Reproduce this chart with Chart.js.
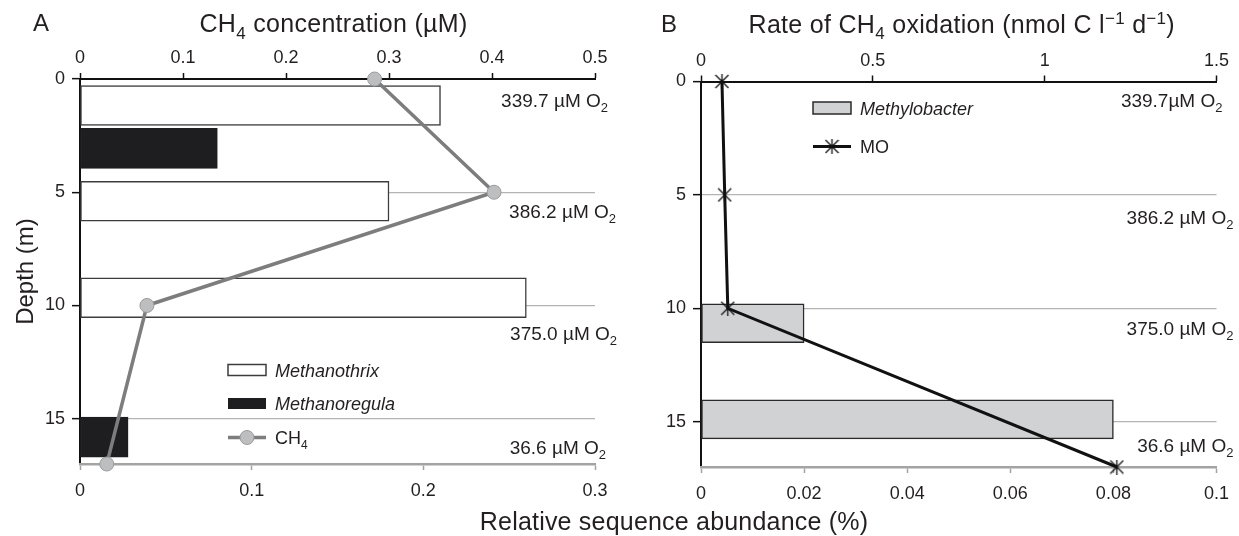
<!DOCTYPE html>
<html>
<head>
<meta charset="utf-8">
<script src="https://cdn.jsdelivr.net/npm/chart.js@4.4.1/dist/chart.umd.min.js"></script>
<style>
  body { margin: 0; background: #fff; }
  #wrap { position: relative; width: 1239px; height: 536px; overflow: hidden; }
  #chartA { position: absolute; left: 0; top: 0; }
  #chartB { position: absolute; left: 620px; top: 0; }
  #xtitle {
    position: absolute; left: 674px; top: 507px; transform: translateX(-50%);
    font: 25px "Liberation Sans", Arial, sans-serif; letter-spacing: 0.2px;
    color: #231f20; white-space: nowrap; line-height: 28px;
  }
</style>
</head>
<body>
<div id="wrap">
  <canvas id="chartA" width="620" height="536"></canvas>
  <canvas id="chartB" width="619" height="536"></canvas>
  <div id="xtitle">Relative sequence abundance (%)</div>
</div>
<script>
// ---- panel A: archaea (bars, %) and CH4 profile (line, µM)
const thrixDepth = [1.17, 5.4, 9.66];
const thrixAbund = [0.21, 0.18, 0.26];
const regulaDepth = [3.06, 15.81];
const regulaAbund = [0.08, 0.028];
const ch4Depth = [0, 5, 10, 17];
const ch4Conc = [0.286, 0.402, 0.065, 0.026];

// ---- panel B: Methylobacter (bars, %) and CH4 oxidation rate (line)
const bacterDepth = [10.66, 14.9];
const bacterAbund = [0.02, 0.08];
const moDepth = [0, 5, 10, 17];
const moRate = [0.061, 0.069, 0.078, 1.21];

// O2 measured at the four sampling depths
const o2Values = ['339.7', '386.2', '375.0', '36.6'];

const FONT = '"Liberation Sans", Arial, Helvetica, sans-serif';
const INK = '#231f20';
const tickFont = { family: FONT, size: 18 };

function numLabel(v) {
  return String(Math.round(v * 1e6) / 1e6);
}

// draws text made of parts like [['CH'], ['4', 'sub']], y is the baseline
function drawRich(ctx, parts, x, y, size, align, style) {
  style = style || '';
  const fontFor = k => style + ' ' + (k ? Math.round(size * 0.66) : size) + 'px ' + FONT;
  let w = 0;
  parts.forEach(p => { ctx.font = fontFor(p[1]); w += ctx.measureText(p[0]).width; });
  let cx = align === 'center' ? x - w / 2 : align === 'right' ? x - w : x;
  ctx.textAlign = 'left';
  ctx.textBaseline = 'alphabetic';
  parts.forEach(p => {
    ctx.font = fontFor(p[1]);
    const dy = p[1] === 'sub' ? size * 0.27 : p[1] === 'sup' ? -size * 0.36 : 0;
    ctx.fillText(p[0], cx, y + dy);
    cx += ctx.measureText(p[0]).width;
  });
}

// asterisk marker used for the MO series
const star = document.createElement('canvas');
star.width = 15; star.height = 15;
(function () {
  const c = star.getContext('2d');
  c.strokeStyle = '#111';
  c.lineWidth = 1.3;
  c.beginPath();
  c.moveTo(1, 1); c.lineTo(14, 14);
  c.moveTo(14, 1); c.lineTo(1, 14);
  c.moveTo(7.5, 0); c.lineTo(7.5, 15);
  c.stroke();
})();

function depthScale(width) {
  return {
    type: 'linear', position: 'left', reverse: true, min: 0, max: 17, offset: false,
    afterFit: s => { s.width = width; },
    ticks: { stepSize: 5, includeBounds: false, font: tickFont, color: INK, padding: 7 },
    grid: {
      offset: false,
      color: c => (c.tick && c.tick.value === 0 ? 'rgba(0,0,0,0)' : '#b4b4b4'),
      lineWidth: 1.3, tickColor: '#111', tickLength: 8, tickWidth: 1.5
    },
    border: { color: '#111', width: 2 }
  };
}

function valueScale(pos, max, step, height, lineColor) {
  return {
    type: 'linear', position: pos, min: 0, max: max,
    afterFit: s => { s.height = height; },
    ticks: { stepSize: step, callback: numLabel, font: tickFont, color: INK, padding: pos === 'top' ? 4 : 10 },
    grid: { drawOnChartArea: false, tickLength: 6, tickColor: lineColor, tickWidth: 1.5 },
    border: { color: lineColor, width: pos === 'top' ? 2 : 2.5 }
  };
}

function o2Labels(ctx, chart, place, texts) {
  const ca = chart.chartArea, y = chart.scales.y;
  texts.forEach((t, i) => {
    const py = y.getPixelForValue(place[i].d);
    drawRich(ctx, [[t], ['2', 'sub']], ca.right + place[i].dx, py + 7, 19, 'right');
  });
}

// ---------- panel A
const o2PlaceA = [{ d: 0.93, dx: 13 }, { d: 5.82, dx: 21 }, { d: 11.2, dx: 22 }, { d: 16.23, dx: 11 }];

const panelA = {
  id: 'panelA',
  afterDraw(chart) {
    const { ctx, chartArea: ca } = chart;
    ctx.save();
    ctx.fillStyle = INK;
    drawRich(ctx, [['A']], 41, 30.5, 24, 'center');
    ctx.letterSpacing = '0.3px';
    drawRich(ctx, [['CH'], ['4', 'sub'], [' concentration (µM)']], (ca.left + ca.right) / 2 - 4, 32, 25, 'center');
    ctx.letterSpacing = '0px';
    ctx.save();
    ctx.translate(24, (ca.top + ca.bottom) / 2);
    ctx.rotate(-Math.PI / 2);
    drawRich(ctx, [['Depth (m)']], 0, 8.5, 24, 'center');
    ctx.restore();

    o2Labels(ctx, chart, o2PlaceA, o2Values.map(v => v + ' µM O'));

    // legend
    const bx = ca.left + 148, tx = bx + 47, rows = [370, 403.5, 437.5];
    const ds = chart.data.datasets;
    ctx.lineWidth = 1.5;
    ctx.fillStyle = ds[1].backgroundColor; ctx.strokeStyle = ds[1].borderColor;
    ctx.fillRect(bx, rows[0] - 5.5, 38, 11); ctx.strokeRect(bx, rows[0] - 5.5, 38, 11);
    ctx.fillStyle = ds[2].backgroundColor; ctx.strokeStyle = ds[2].borderColor;
    ctx.fillRect(bx, rows[1] - 5.5, 38, 11);
    ctx.strokeStyle = ds[0].borderColor; ctx.lineWidth = ds[0].borderWidth;
    ctx.beginPath(); ctx.moveTo(bx, rows[2]); ctx.lineTo(bx + 38, rows[2]); ctx.stroke();
    ctx.fillStyle = ds[0].pointBackgroundColor; ctx.strokeStyle = ds[0].pointBorderColor; ctx.lineWidth = 1;
    ctx.beginPath(); ctx.arc(bx + 19, rows[2], 7, 0, Math.PI * 2); ctx.fill(); ctx.stroke();
    ctx.fillStyle = INK;
    drawRich(ctx, [['Methanothrix']], tx, rows[0] + 6.5, 18, 'left', 'italic');
    drawRich(ctx, [['Methanoregula']], tx, rows[1] + 6.5, 18, 'left', 'italic');
    drawRich(ctx, [['CH'], ['4', 'sub']], tx, rows[2] + 6.5, 18, 'left');
    ctx.restore();
  }
};

new Chart(document.getElementById('chartA'), {
  type: 'bar',
  data: {
    datasets: [
      {
        type: 'line', label: 'CH4', xAxisID: 'x2', yAxisID: 'y',
        data: ch4Depth.map((d, i) => ({ x: ch4Conc[i], y: d })),
        borderColor: '#7d7d7d', borderWidth: 3.5, tension: 0,
        pointRadius: 7, pointBackgroundColor: '#bdbec0', pointBorderColor: '#9b9b9b', pointBorderWidth: 1,
        clip: false, order: 0
      },
      {
        label: 'Methanothrix', xAxisID: 'x', yAxisID: 'y',
        data: thrixDepth.map((d, i) => ({ x: thrixAbund[i], y: d })),
        backgroundColor: '#ffffff', borderColor: '#3c3c3c', borderWidth: 1.5, borderSkipped: false,
        barThickness: 40, grouped: false, order: 1
      },
      {
        label: 'Methanoregula', xAxisID: 'x', yAxisID: 'y',
        data: regulaDepth.map((d, i) => ({ x: regulaAbund[i], y: d })),
        backgroundColor: '#1e1e21', borderColor: '#1e1e21', borderWidth: 1, borderSkipped: false,
        barThickness: 40, grouped: false, order: 2
      }
    ]
  },
  options: {
    indexAxis: 'y',
    responsive: false,
    animation: false,
    events: [],
    layout: { padding: { left: 0, right: 25, top: 0, bottom: 0 } },
    plugins: { legend: { display: false }, tooltip: { enabled: false } },
    scales: {
      y: depthScale(80),
      x: valueScale('bottom', 0.3, 0.1, 72, '#a3a3a3'),
      x2: valueScale('top', 0.5, 0.1, 79, '#111')
    }
  },
  plugins: [panelA]
});

// ---------- panel B
const o2PlaceB = [{ d: 0.81, dx: 6 }, { d: 5.99, dx: 17 }, { d: 10.86, dx: 17 }, { d: 16.03, dx: 17 }];

const panelB = {
  id: 'panelB',
  afterDraw(chart) {
    const { ctx, chartArea: ca } = chart;
    ctx.save();
    ctx.fillStyle = INK;
    drawRich(ctx, [['B']], 49, 31.5, 24, 'center');
    ctx.letterSpacing = '0.3px';
    drawRich(ctx, [['Rate of CH'], ['4', 'sub'], [' oxidation (nmol C l'], ['\u22121', 'sup'], [' d'], ['\u22121', 'sup'], [')']],
      (ca.left + ca.right) / 2 + 3, 32.5, 25, 'center');
    ctx.letterSpacing = '0px';

    const texts = o2Values.map((v, i) => v + (i === 0 ? 'µM O' : ' µM O'));
    o2Labels(ctx, chart, o2PlaceB, texts);

    // legend
    const bx = ca.left + 112, tx = bx + 47, rows = [108, 146.5];
    const ds = chart.data.datasets;
    ctx.lineWidth = 1.5;
    ctx.fillStyle = ds[1].backgroundColor; ctx.strokeStyle = ds[1].borderColor;
    ctx.fillRect(bx, rows[0] - 6, 38, 12); ctx.strokeRect(bx, rows[0] - 6, 38, 12);
    ctx.strokeStyle = ds[0].borderColor; ctx.lineWidth = ds[0].borderWidth;
    ctx.beginPath(); ctx.moveTo(bx, rows[1]); ctx.lineTo(bx + 38, rows[1]); ctx.stroke();
    ctx.drawImage(star, bx + 19 - 7.5, rows[1] - 7.5);
    ctx.fillStyle = INK;
    drawRich(ctx, [['Methylobacter']], tx, rows[0] + 6.5, 18, 'left', 'italic');
    drawRich(ctx, [['MO']], tx, rows[1] + 6.5, 18, 'left');
    ctx.restore();
  }
};

new Chart(document.getElementById('chartB'), {
  type: 'bar',
  data: {
    datasets: [
      {
        type: 'line', label: 'MO', xAxisID: 'x2', yAxisID: 'y',
        data: moDepth.map((d, i) => ({ x: moRate[i], y: d })),
        borderColor: '#111111', borderWidth: 3, tension: 0,
        pointStyle: star, pointRadius: 7,
        clip: false, order: 0
      },
      {
        label: 'Methylobacter', xAxisID: 'x', yAxisID: 'y',
        data: bacterDepth.map((d, i) => ({ x: bacterAbund[i], y: d })),
        backgroundColor: '#d1d2d4', borderColor: '#2a2a2a', borderWidth: 1.5, borderSkipped: false,
        barThickness: 39, grouped: false, order: 1
      }
    ]
  },
  options: {
    indexAxis: 'y',
    responsive: false,
    animation: false,
    events: [],
    layout: { padding: { left: 0, right: 18, top: 0, bottom: 0 } },
    plugins: { legend: { display: false }, tooltip: { enabled: false } },
    scales: {
      y: depthScale(81),
      x: valueScale('bottom', 0.1, 0.02, 69, '#a3a3a3'),
      x2: valueScale('top', 1.5, 0.5, 81.5, '#111')
    }
  },
  plugins: [panelB]
});
</script>
</body>
</html>
